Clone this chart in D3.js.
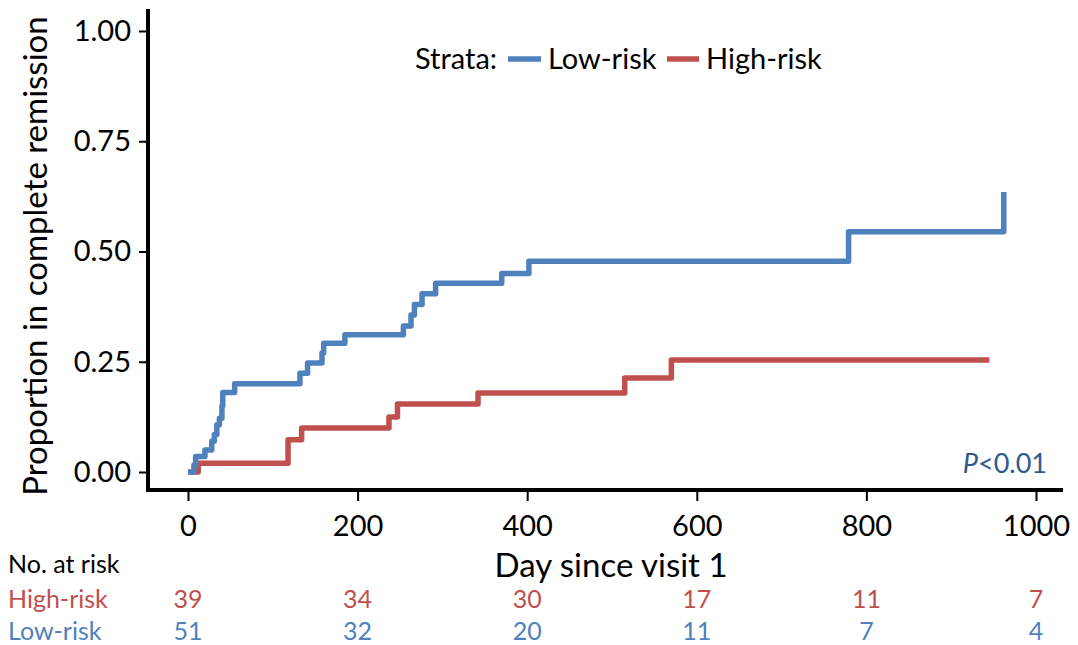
<!DOCTYPE html>
<html>
<head>
<meta charset="utf-8">
<script src="https://cdn.jsdelivr.net/npm/d3@7"></script>
<style>
  body { margin: 0; background: #fff; }
  text { font-family: Lato, "Open Sans", sans-serif; }
</style>
</head>
<body>
<div id="chartContainer"></div>
<script>
var width = 1078;
var height = 645;

// step curves (day, cumulative proportion)
var lowDays = [0, 7, 9, 20, 28, 31, 34, 37, 40, 41, 55, 132, 141, 158, 160, 185, 254, 263, 267, 276, 292, 370, 402, 779, 962];
var lowProp = [0, 0.016, 0.035, 0.05, 0.07, 0.085, 0.107, 0.122, 0.15, 0.18, 0.20, 0.224, 0.247, 0.27, 0.292, 0.311, 0.331, 0.356, 0.38, 0.404, 0.428, 0.45, 0.478, 0.545, 0.635];
var highDays = [0, 12, 118, 134, 237, 247, 342, 515, 570, 945];
var highProp = [0, 0.02, 0.073, 0.10, 0.125, 0.154, 0.179, 0.213, 0.254, 0.254];

var xTicks = [0, 200, 400, 600, 800, 1000];
var yTicks = [0, 0.25, 0.5, 0.75, 1];
var riskTimes = [0, 200, 400, 600, 800, 1000];
var riskHigh = [39, 34, 30, 17, 11, 7];
var riskLow = [51, 32, 20, 11, 7, 4];

var blue = '#4F81BD';
var red = '#C0504D';

var svg = d3.select('#chartContainer').
append('svg').
attr('width', width).
attr('height', height);

var x = d3.scaleLinear().domain([0, 1000]).range([188, 1036]);
var y = d3.scaleLinear().domain([0, 1]).range([472, 31]);

// y axis
var yAxis = d3.axisLeft(y).tickValues(yTicks).tickFormat(d3.format('.2f')).tickSizeOuter(0).tickSize(9).tickPadding(8);
var yg = svg.append('g').attr('transform', 'translate(148,0)').call(yAxis);
yg.select('.domain').remove();
yg.selectAll('.tick line').attr('stroke', '#000').attr('stroke-width', 2);
yg.selectAll('.tick text').attr('font-size', 29).attr('fill', '#000').attr('font-family', 'Lato');

// x axis
var xAxis = d3.axisBottom(x).tickValues(xTicks).tickFormat(d3.format('d')).tickSizeOuter(0).tickSize(11).tickPadding(14);
var xg = svg.append('g').attr('transform', 'translate(0,490)').call(xAxis);
xg.select('.domain').remove();
xg.selectAll('.tick line').attr('stroke', '#000').attr('stroke-width', 2);
xg.selectAll('.tick text').attr('font-size', 29).attr('fill', '#000').attr('font-family', 'Lato');

// axis lines
svg.append('line').attr('x1', 148).attr('x2', 148).attr('y1', 9).attr('y2', 492).
attr('stroke', '#000').attr('stroke-width', 4);
svg.append('line').attr('x1', 146).attr('x2', 1063).attr('y1', 490).attr('y2', 490).
attr('stroke', '#000').attr('stroke-width', 4);

// curves
var line = d3.line().
x(function (d) {return x(d[0]);}).
y(function (d) {return y(d[1]);}).
curve(d3.curveStepAfter);

var highPts = highDays.map(function (d, i) {return [d, highProp[i]];});
var lowPts = lowDays.map(function (d, i) {return [d, lowProp[i]];});

svg.append('path').datum(highPts).attr('d', line).
attr('fill', 'none').attr('stroke', red).attr('stroke-width', 5.5).attr('stroke-linejoin', 'round');
svg.append('path').datum(lowPts).attr('d', line).
attr('fill', 'none').attr('stroke', blue).attr('stroke-width', 5.5).attr('stroke-linejoin', 'round');

// axis titles
svg.append('text').attr('transform', 'translate(47,256) rotate(-90)').
attr('text-anchor', 'middle').attr('font-size', 33).attr('fill', '#000').
text('Proportion in complete remission');
svg.append('text').attr('x', 611).attr('y', 577).
attr('text-anchor', 'middle').attr('font-size', 33).attr('fill', '#000').
text('Day since visit 1');

// legend
var lg = svg.append('g');
lg.append('text').attr('x', 415).attr('y', 69).attr('font-size', 29).attr('fill', '#000').text('Strata:');
lg.append('line').attr('x1', 508).attr('x2', 541).attr('y1', 59).attr('y2', 59).attr('stroke', blue).attr('stroke-width', 5.5);
lg.append('text').attr('x', 548).attr('y', 69).attr('font-size', 29).attr('fill', '#000').text('Low-risk');
lg.append('line').attr('x1', 667).attr('x2', 699).attr('y1', 59).attr('y2', 59).attr('stroke', red).attr('stroke-width', 5.5);
lg.append('text').attr('x', 706).attr('y', 69).attr('font-size', 29).attr('fill', '#000').text('High-risk');

// p value
var pt = svg.append('text').attr('x', 1047).attr('y', 473).attr('text-anchor', 'end').
attr('font-size', 27).attr('fill', '#2E5A8E');
pt.append('tspan').attr('font-style', 'italic').text('P');
pt.append('tspan').text('<0.01');

// risk table
svg.append('text').attr('x', 8).attr('y', 573).attr('font-size', 25).attr('fill', '#000').text('No. at risk');
svg.append('text').attr('x', 8).attr('y', 608).attr('font-size', 25).attr('fill', red).text('High-risk');
svg.append('text').attr('x', 8).attr('y', 640).attr('font-size', 25).attr('fill', blue).text('Low-risk');

svg.selectAll('.riskHigh').data(riskHigh).enter().append('text').
attr('class', 'riskHigh').
attr('x', function (d, i) {return x(riskTimes[i]);}).
attr('y', 608).attr('text-anchor', 'middle').attr('font-size', 25).attr('fill', red).
text(function (d) {return d;});
svg.selectAll('.riskLow').data(riskLow).enter().append('text').
attr('class', 'riskLow').
attr('x', function (d, i) {return x(riskTimes[i]);}).
attr('y', 640).attr('text-anchor', 'middle').attr('font-size', 25).attr('fill', blue).
text(function (d) {return d;});
</script>
</body>
</html>
